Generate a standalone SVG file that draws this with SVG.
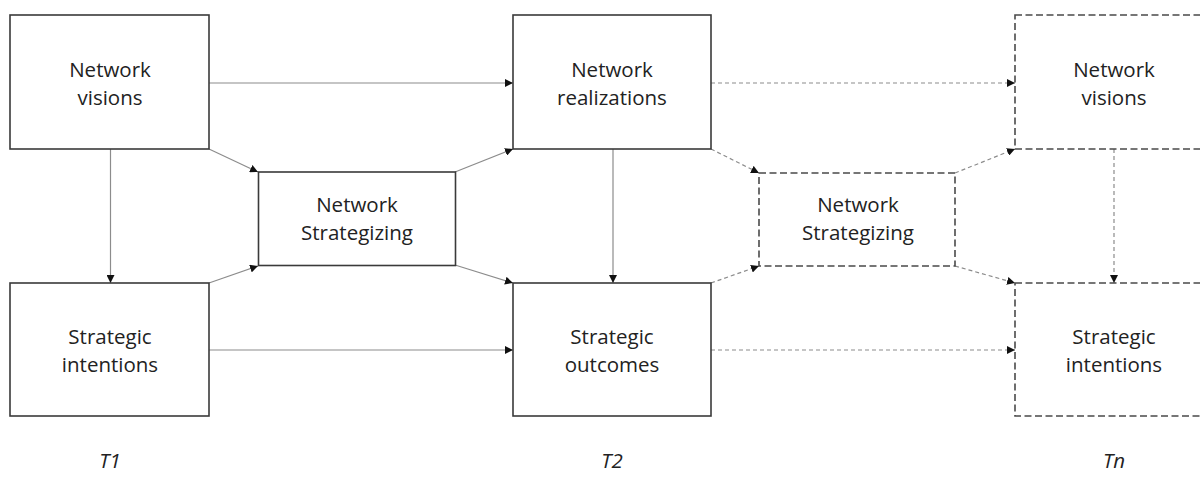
<svg xmlns="http://www.w3.org/2000/svg" width="1200" height="478" viewBox="0 0 1200 478">
<style>
.box{fill:#fff;stroke:#3a3a3a;stroke-width:1.6}
.dbox{fill:#fff;stroke:#4a4a4a;stroke-width:1.6;stroke-dasharray:7 3.5}
.c{stroke:#8c8c8c;stroke-width:1.2;fill:none;marker-end:url(#ah)}
.d{stroke:#8c8c8c;stroke-width:1.2;fill:none;stroke-dasharray:4 3;marker-end:url(#ah)}
text{font-family:"Open Sans","Liberation Sans",sans-serif;font-size:20.5px;fill:#222;text-anchor:middle}
.t{font-style:italic}
</style>
<defs>
<marker id="ah" markerWidth="10" markerHeight="8" refX="8" refY="4" orient="auto" markerUnits="userSpaceOnUse">
<path d="M0,0 L8,4 L0,8 Z" fill="#111"/>
</marker>
</defs>
<rect width="1200" height="478" fill="#fff"/>
<g id="connectors">
<line class="c" x1="209" y1="83" x2="513" y2="83"/>
<line class="c" x1="110.5" y1="149" x2="110.5" y2="283"/>
<line class="c" x1="209" y1="149" x2="258" y2="172"/>
<line class="c" x1="209" y1="283" x2="258" y2="266"/>
<line class="c" x1="455" y1="172" x2="513" y2="149"/>
<line class="c" x1="455" y1="265" x2="513" y2="283"/>
<line class="c" x1="209" y1="350" x2="513" y2="350"/>
<line class="c" x1="613" y1="149" x2="613" y2="283"/>
<line class="d" x1="711" y1="83" x2="1015" y2="83"/>
<line class="d" x1="711" y1="350" x2="1015" y2="350"/>
<line class="d" x1="711" y1="149" x2="759" y2="173"/>
<line class="d" x1="711" y1="283" x2="759" y2="266"/>
<line class="d" x1="955" y1="173" x2="1015" y2="149"/>
<line class="d" x1="955" y1="266" x2="1015" y2="283"/>
<line class="d" x1="1114" y1="149" x2="1114" y2="283"/>
</g>
<g id="nv1">
<rect class="box" x="10" y="15" width="199" height="134"/>
<text x="110" y="77">Network</text>
<text x="110" y="105">visions</text>
</g>
<g id="si1">
<rect class="box" x="10" y="283" width="199" height="133"/>
<text x="110" y="344">Strategic</text>
<text x="110" y="372">intentions</text>
</g>
<g id="ns1">
<rect class="box" x="258.5" y="172" width="197" height="93.5"/>
<text x="357" y="212">Network</text>
<text x="357" y="240">Strategizing</text>
</g>
<g id="nr">
<rect class="box" x="513" y="15" width="198" height="134"/>
<text x="612" y="77">Network</text>
<text x="612" y="105">realizations</text>
</g>
<g id="so">
<rect class="box" x="513" y="283" width="198" height="133"/>
<text x="612" y="344">Strategic</text>
<text x="612" y="372">outcomes</text>
</g>
<g id="ns2">
<rect class="dbox" x="759" y="173" width="196" height="93"/>
<text x="858" y="212">Network</text>
<text x="858" y="240">Strategizing</text>
</g>
<g id="nvn">
<rect class="dbox" x="1015" y="15" width="199" height="134"/>
<text x="1114" y="77">Network</text>
<text x="1114" y="105">visions</text>
</g>
<g id="sin">
<rect class="dbox" x="1015" y="283" width="199" height="133"/>
<text x="1114" y="344">Strategic</text>
<text x="1114" y="372">intentions</text>
</g>
<g id="labels">
<text class="t" x="110" y="468">T1</text>
<text class="t" x="612" y="468">T2</text>
<text class="t" x="1114" y="468">Tn</text>
</g>
</svg>
